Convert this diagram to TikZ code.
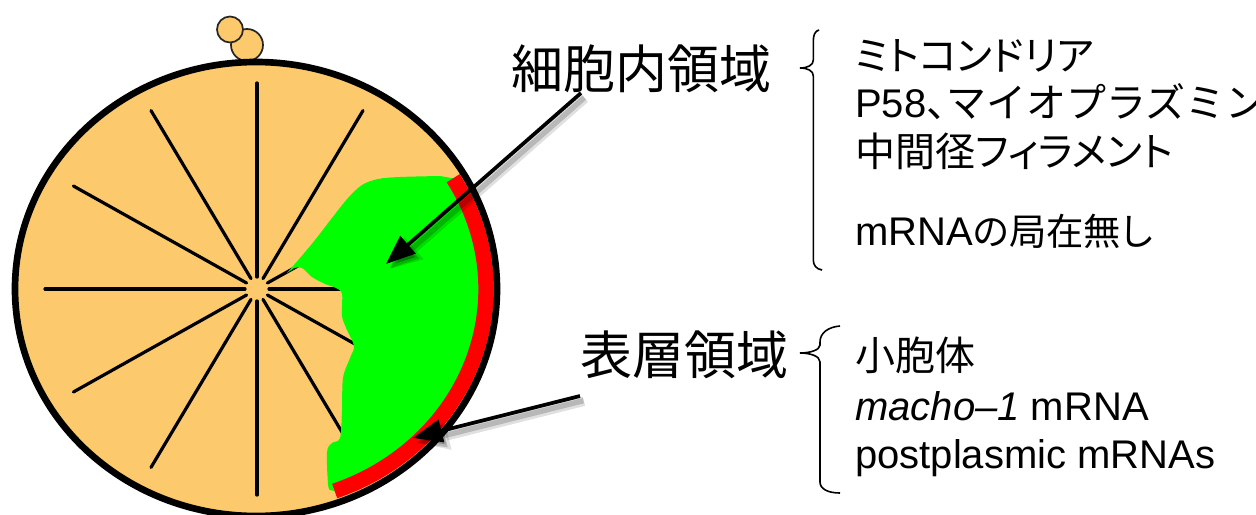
\documentclass[tikz,border=0pt]{standalone}
\usepackage{fontspec}
\setmainfont{Liberation Sans}
\newfontfamily\jp[RawFeature=+palt]{Noto Sans CJK JP}
\newfontfamily\jpfull{Noto Sans CJK JP}
\usetikzlibrary{arrows.meta}

\definecolor{eggfill}{RGB}{252,202,108}
\definecolor{plasmgreen}{RGB}{0,255,0}
\definecolor{cortexred}{RGB}{255,0,0}

\tikzset{
  polarbody/.style={fill=eggfill, draw=black!85, line width=1.3pt},
  ray/.style={line width=2.4pt, line cap=round},
  cortexband/.style={draw=cortexred, line width=11.5pt},
  eggrim/.style={draw=black, line width=5pt},
  bracepath/.style={draw=black, line width=1.2pt},
  pointer/.style={line width=2.8pt, -{Triangle[length=22pt,width=17pt]},
    preaction={draw=black, opacity=0.12, line width=7pt,
      -{Triangle[length=24pt,width=20pt]},
      transform canvas={xshift=3pt,yshift=-4pt}},
    preaction={draw=black, opacity=0.18, line width=4pt,
      -{Triangle[length=22pt,width=17pt]},
      transform canvas={xshift=2.5pt,yshift=-3.5pt}}},
  region/.style={inner sep=0pt, font=\jp\fontsize{39}{44}\selectfont},
  item/.style={inner sep=0pt, anchor=base west, font=\fontsize{30}{36}\selectfont}
}

\begin{document}
\begin{tikzpicture}[x=0.75pt,y=-0.75pt]
\useasboundingbox (0,0) rectangle (1256,514);

% polar bodies sitting on top of the egg
\draw[polarbody] (247,45) circle[radius=16];
\draw[polarbody] (230,29.5) circle[radius=13];

% egg cytoplasm
\fill[eggfill] (256,289) ellipse[x radius=241, y radius=227];

% radial lines from the centre
\foreach \a in {0,30,...,330}
  \draw[ray, shift={(257,289)}] (\a:12) -- (\a:212 and 206);

% myoplasm (green) region
\fill[plasmgreen]
  plot[smooth, tension=0.55] coordinates {(287,273) (300,258) (315,240) (332,218)
    (348,198) (362,185) (378,179) (400,177) (440,176)}
  -- ([shift={(256,289)}]-31:230 and 215)
  arc[start angle=-31, end angle=70, x radius=230, y radius=215]
  -- plot[smooth, tension=0.55] coordinates {(330,490) (328,484) (327,452)
    (332,443) (340,438) (342,410) (343,378) (350,358) (354,346) (347,330)
    (342,316) (342,294) (336,288) (325,284) (312,277) (302,268) (294,268)}
  -- cycle;

% cortical (red) band
\draw[cortexband] ([shift={(256,289)}]-31:230 and 215)
  arc[start angle=-31, end angle=70, x radius=230, y radius=215];

% egg outline
\draw[eggrim] (256,289) ellipse[x radius=241, y radius=227];

% region labels
\node[region, anchor=base west] (inner) at (511,88) {細胞内領域};
\node[region, anchor=base west] (cortex) at (580,374) {表層領域};

% pointers into the egg
\coordinate (innerfrom) at (581,93);
\coordinate (innerto) at (386,264);
\coordinate (cortexfrom) at (580,396);
\coordinate (cortexto) at (413,438);
\draw[pointer] (innerfrom) -- (innerto);
\draw[pointer] (cortexfrom) -- (cortexto);

% braces
\draw[bracepath] (819,30) .. controls (815,31) and (813.3,35) .. (813.3,41)
  -- (813.3,60) .. controls (813.3,65) and (808,68) .. (800,68)
  .. controls (808,68) and (813.3,71) .. (813.3,76)
  -- (813.3,260) .. controls (813.3,265) and (816,269) .. (822,270);
\draw[bracepath] (840,326) .. controls (828,327) and (820,333) .. (820,342)
  -- (820,345) .. controls (820,350) and (810,353) .. (800,353)
  .. controls (810,353) and (820,356) .. (820,362)
  -- (820,482) .. controls (820,489) and (828,493) .. (840,493);

% contents of the inner region
\node[item] (mito) at (855,70) {\jp ミトコンドリア};
\node[item] (p58) at (855,117) {P58{\jp 、}{\jpfull マイオプラズミン}};
\node[item] (ifil) at (855,166) {\jp 中間径フィラメント};
\node[item] (nomrna) at (855,245) {mRNA{\jp\fontsize{28}{34}\selectfont の局在無し}};

% contents of the cortical region
\node[item] (er) at (855,370) {\jp 小胞体};
\node[item] (macho) at (855,420) {\textit{macho–1} mRNA};
\node[item] (pem) at (855,468) {postplasmic mRNAs};
\end{tikzpicture}
\end{document}
